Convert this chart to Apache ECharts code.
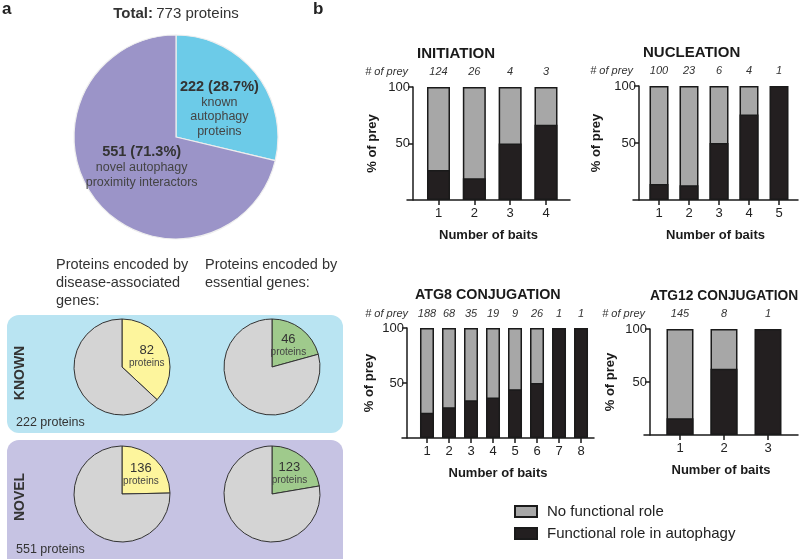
<!DOCTYPE html>
<html>
<head>
<meta charset="utf-8">
<script src="https://cdn.jsdelivr.net/npm/echarts@6/dist/echarts.min.js"></script>
<style>
html,body{margin:0;padding:0;background:#fff;}
#c{width:800px;height:559px;}
</style>
</head>
<body>
<div id="c"></div>
<script>
// ---------- DATA ----------
const overviewNames = ['known', 'novel'];
const overviewValues = [222, 551];
const overviewLines = [['known', 'autophagy', 'proteins'], ['novel autophagy', 'proximity interactors']];
const groupNames = ['KNOWN', 'NOVEL'];
const groupTotals = [222, 551];
const diseaseCounts = [82, 136];
const essentialCounts = [46, 123];

const initiationBaits = [1, 2, 3, 4];
const initiationPrey = [124, 26, 4, 3];
const initiationFunctionalPct = [26.6, 19.2, 50, 66.7];

const nucleationBaits = [1, 2, 3, 4, 5];
const nucleationPrey = [100, 23, 6, 4, 1];
const nucleationFunctionalPct = [14, 13, 50, 75, 100];

const atg8Baits = [1, 2, 3, 4, 5, 6, 7, 8];
const atg8Prey = [188, 68, 35, 19, 9, 26, 1, 1];
const atg8FunctionalPct = [22.9, 27.9, 34.3, 36.8, 44.4, 50, 100, 100];

const atg12Baits = [1, 2, 3];
const atg12Prey = [145, 8, 1];
const atg12FunctionalPct = [15.9, 62.5, 100];

const yTicks = [50, 100];
const legendNames = ['No functional role', 'Functional role in autophagy'];

// ---------- STYLE / LAYOUT ----------
const FONT = 'Liberation Sans, Arial, Helvetica, sans-serif';
const GRAY = '#a7a7a7', BLACK = '#231f20', EDGE = '#1a1a1a';

const panels = [
  {title: 'INITIATION', baits: initiationBaits, prey: initiationPrey, pct: initiationFunctionalPct,
   grid: {left: 407, top: 87, width: 163, height: 113}, min: 0.121, max: 4.67, barW: 23, yOff: -6,
   titleX: 417, titleY: 46, titleSize: 15, yNameGap: 34, preyNameX: 408, preyOff: 15},
  {title: 'NUCLEATION', baits: nucleationBaits, prey: nucleationPrey, pct: nucleationFunctionalPct,
   grid: {left: 633, top: 86, width: 165, height: 114}, min: 0.133, max: 5.633, barW: 19, yOff: -6,
   titleX: 643, titleY: 45, titleSize: 15, yNameGap: 36, preyNameX: 633, preyOff: 15},
  {title: 'ATG8 CONJUGATION', baits: atg8Baits, prey: atg8Prey, pct: atg8FunctionalPct,
   grid: {left: 402, top: 328, width: 192, height: 110}, min: -0.136, max: 8.59, barW: 14, yOff: -5,
   titleX: 415, titleY: 288, titleSize: 14.3, yNameGap: 31, preyNameX: 408, preyOff: 14},
  {title: 'ATG12 CONJUGATION', baits: atg12Baits, prey: atg12Prey, pct: atg12FunctionalPct,
   grid: {left: 644, top: 329, width: 154, height: 106}, min: 0.182, max: 3.682, barW: 27, yOff: -6,
   titleX: 650, titleY: 289, titleSize: 13.8, yNameGap: 33, preyNameX: 645, preyOff: 15}
];

const grids = [], xAxes = [], yAxes = [], series = [], titles = [], preyNames = [];
panels.forEach((p, gi) => {
  grids.push(Object.assign({containLabel: false}, p.grid));
  titles.push({text: p.title, left: p.titleX, top: p.titleY, padding: 0,
    textStyle: {fontFamily: FONT, fontSize: p.titleSize, fontWeight: 'bold', color: '#1a1a1a'}});
  preyNames.push({type: 'text', x: p.preyNameX, y: p.grid.top - p.preyOff, silent: true,
    style: {text: '# of prey', fontFamily: FONT, fontSize: 11, fontStyle: 'italic', fill: '#333',
      align: 'right', verticalAlign: 'middle'}});
  // bottom axis
  xAxes.push({
    type: 'value', gridIndex: gi, min: p.min, max: p.max, position: 'bottom',
    splitLine: {show: false},
    axisLine: {show: true, onZero: false, lineStyle: {color: '#1a1a1a', width: 1.5}},
    axisTick: {show: true, customValues: p.baits, length: 5, lineStyle: {color: '#1a1a1a', width: 1.5}},
    axisLabel: {customValues: p.baits, fontFamily: FONT, fontSize: 13, color: '#222', margin: 7},
    name: 'Number of baits', nameLocation: 'middle', nameGap: 29,
    nameTextStyle: {fontFamily: FONT, fontSize: 13, fontWeight: 'bold', color: '#1a1a1a'}
  });
  // top axis showing number of prey
  xAxes.push({
    type: 'value', gridIndex: gi, min: p.min, max: p.max, position: 'top', offset: p.preyOff,
    splitLine: {show: false}, axisLine: {show: false}, axisTick: {show: false},
    axisLabel: {customValues: p.baits, formatter: v => String(p.prey[p.baits.indexOf(Math.round(v))]),
      fontFamily: FONT, fontSize: 11, fontStyle: 'italic', color: '#333', margin: 0, verticalAlign: 'middle'}
  });
  yAxes.push({
    type: 'value', gridIndex: gi, min: 0, max: 100, offset: p.yOff,
    splitLine: {show: false},
    axisLine: {show: true, onZero: false, lineStyle: {color: '#1a1a1a', width: 1.5}},
    axisTick: {show: true, customValues: yTicks, length: 5, lineStyle: {color: '#1a1a1a', width: 1.5}},
    axisLabel: {customValues: yTicks, fontFamily: FONT, fontSize: 13, color: '#222', margin: 3},
    name: '% of prey', nameLocation: 'middle', nameGap: p.yNameGap,
    nameTextStyle: {fontFamily: FONT, fontSize: 13, fontWeight: 'bold', color: '#1a1a1a'}
  });
  series.push({
    type: 'bar', name: legendNames[0], xAxisIndex: gi * 2, yAxisIndex: gi,
    barWidth: p.barW, barGap: '-100%',
    data: p.baits.filter((b, i) => p.pct[i] < 100).map(b => [b, 100]),
    itemStyle: {color: GRAY, borderColor: EDGE, borderWidth: 1.5},
    emphasis: {disabled: true}, silent: true
  });
  series.push({
    type: 'bar', name: legendNames[1], xAxisIndex: gi * 2, yAxisIndex: gi,
    barWidth: p.barW, barGap: '-100%',
    data: p.baits.map((b, i) => [b, p.pct[i]]),
    itemStyle: {color: BLACK, borderColor: EDGE, borderWidth: 1.5},
    emphasis: {disabled: true}, silent: true
  });
});

// Overview pie
const overviewColors = ['#6ccbe8', '#9b94c8'];
series.push({
  type: 'pie', center: [176, 137], radius: 102, startAngle: 90, clockwise: true,
  percentPrecision: 1, silent: true, emphasis: {disabled: true},
  data: overviewNames.map((n, i) => ({name: n, value: overviewValues[i],
    itemStyle: {color: overviewColors[i]},
    label: {offset: i === 0 ? [1, 5] : [8, -4]}})),
  itemStyle: {borderColor: '#eeeeee', borderWidth: 1.2},
  label: {
    show: true, position: 'inside',
    formatter: p => `{b|${p.value} (${p.percent}%)}\n` + overviewLines[p.dataIndex].map(l => `{n|${l}}`).join('\n'),
    rich: {
      b: {fontFamily: FONT, fontSize: 14.5, fontWeight: 'bold', color: '#333', lineHeight: 17},
      n: {fontFamily: FONT, fontSize: 12.5, color: '#444', lineHeight: 14.5}
    }
  },
  labelLine: {show: false}
});

// Small pies
const smallCenters = {disease: [122, [367, 494]], essential: [272, [367, 494]]};
function smallPie(cx, cy, count, total, color) {
  return {
    type: 'pie', center: [cx, cy], radius: 48, startAngle: 90, clockwise: true,
    silent: true, emphasis: {disabled: true},
    itemStyle: {borderColor: '#333', borderWidth: 1},
    data: [
      {name: 'subset', value: count, itemStyle: {color: color},
        label: {show: true, position: 'inside', formatter: p => `{a|${p.value}}\n{s|proteins}`,
          rich: {a: {fontFamily: FONT, fontSize: 13, color: '#333', lineHeight: 14},
                 s: {fontFamily: FONT, fontSize: 10, color: '#444', lineHeight: 12}}}},
      {name: 'other', value: total - count, itemStyle: {color: '#d4d4d4'}, label: {show: false}}
    ],
    labelLine: {show: false}
  };
}
groupTotals.forEach((t, i) => {
  series.push(smallPie(smallCenters.disease[0], smallCenters.disease[1][i], diseaseCounts[i], t, '#fdf59d'));
  series.push(smallPie(smallCenters.essential[0], smallCenters.essential[1][i], essentialCounts[i], t, '#9fca8c'));
});

const txt = (x, y, text, o) => ({type: 'text', left: x, top: y, silent: true,
  style: Object.assign({text: text, fontFamily: FONT, fontSize: 14.5, fill: '#333'}, o || {})});

const totalCount = overviewValues.reduce((a, b) => a + b, 0);
const graphic = [
  {type: 'rect', shape: {x: 7, y: 315, width: 336, height: 118, r: 12}, style: {fill: '#b9e4f2'}, z: -10, silent: true},
  {type: 'rect', shape: {x: 7, y: 440, width: 336, height: 135, r: 12}, style: {fill: '#c6c3e3'}, z: -10, silent: true},
  {type: 'text', x: 176, y: 14, silent: true, style: {
    text: `{b|Total:} {n|${totalCount} proteins}`, align: 'center', verticalAlign: 'middle',
    rich: {b: {fontFamily: FONT, fontSize: 15, fontWeight: 'bold', fill: '#333'},
           n: {fontFamily: FONT, fontSize: 15, fill: '#333'}}}},
  txt(2, 1, 'a', {fontSize: 17, fontWeight: 'bold', fill: '#222'}),
  txt(313, 1, 'b', {fontSize: 17, fontWeight: 'bold', fill: '#222'}),
  {type: 'text', x: 56, y: 256, silent: true, style: {text: 'Proteins encoded by\ndisease-associated\ngenes:',
    fontFamily: FONT, fontSize: 14.5, fill: '#333', lineHeight: 18}},
  {type: 'text', x: 205, y: 256, silent: true, style: {text: 'Proteins encoded by\nessential genes:',
    fontFamily: FONT, fontSize: 14.5, fill: '#333', lineHeight: 18}},
  {type: 'text', x: 20, y: 373, rotation: Math.PI / 2, silent: true, style: {text: groupNames[0],
    fontFamily: FONT, fontSize: 14, fontWeight: 'bold', fill: '#333', align: 'center', verticalAlign: 'middle'}},
  {type: 'text', x: 20, y: 497, rotation: Math.PI / 2, silent: true, style: {text: groupNames[1],
    fontFamily: FONT, fontSize: 14, fontWeight: 'bold', fill: '#333', align: 'center', verticalAlign: 'middle'}},
  {type: 'text', x: 16, y: 423, silent: true, style: {text: groupTotals[0] + ' proteins',
    fontFamily: FONT, fontSize: 12.5, fill: '#333', verticalAlign: 'middle'}},
  {type: 'text', x: 16, y: 550, silent: true, style: {text: groupTotals[1] + ' proteins',
    fontFamily: FONT, fontSize: 12.5, fill: '#333', verticalAlign: 'middle'}}
].concat(preyNames);

const chart = echarts.init(document.getElementById('c'), null, {renderer: 'canvas'});
chart.setOption({
  animation: false,
  backgroundColor: '#fff',
  title: titles,
  grid: grids,
  xAxis: xAxes,
  yAxis: yAxes,
  legend: {
    data: legendNames, orient: 'vertical', left: 509, top: 499, itemWidth: 22, itemHeight: 11, itemGap: 7,
    icon: 'rect', selectedMode: false,
    textStyle: {fontFamily: FONT, fontSize: 15, color: '#222', padding: [0, 0, 0, 5]}
  },
  graphic: graphic,
  series: series
});
</script>
</body>
</html>
